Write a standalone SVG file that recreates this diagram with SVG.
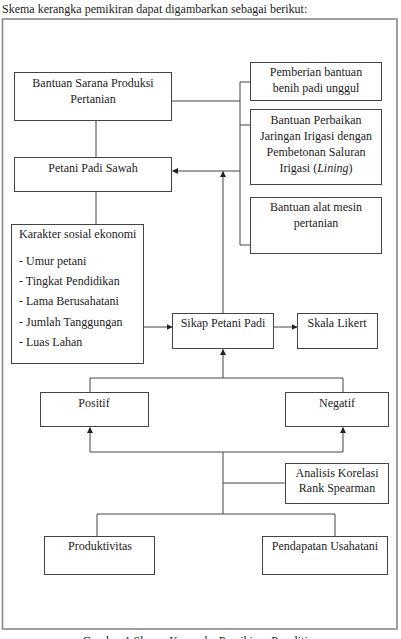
<svg xmlns="http://www.w3.org/2000/svg" width="401" height="639" viewBox="0 0 401 639">
<style>
text{font-family:'Liberation Serif','Times New Roman',serif;font-size:12px;fill:#222}
.c{text-anchor:middle}
.b{fill:#fff;stroke:#444;stroke-width:1}
.l{fill:none;stroke:#444;stroke-width:1}
</style>
<defs>
<marker id="ah" markerWidth="6" markerHeight="6" refX="5.5" refY="3" orient="auto" markerUnits="userSpaceOnUse">
<path d="M0,0 L6,3 L0,6 Z" fill="#222"/>
</marker>
</defs>
<rect width="401" height="639" fill="#fff"/>
<g font-family="'Liberation Serif', 'Times New Roman', serif">
<text x="2" y="13">Skema kerangka pemikiran dapat digambarkan sebagai berikut:</text>
<rect x="2.5" y="19" width="394.5" height="610" fill="none" stroke="#888" stroke-width="1.6"/>

<g id="connectors">
<path class="l" d="M172,101 H240"/>
<path class="l" d="M250,82 H240 V245 H250"/>
<path class="l" d="M240,125 H250"/>
<path class="l" d="M240,171 H172.5" marker-end="url(#ah)"/>
<path class="l" d="M96,121 V157"/>
<path class="l" d="M96,192 V224"/>
<path class="l" d="M223,313 V171.5" marker-end="url(#ah)"/>
<path class="l" d="M144,327 H172" marker-end="url(#ah)"/>
<path class="l" d="M274,327 H297" marker-end="url(#ah)"/>
<path class="l" d="M223,378 V349.5" marker-end="url(#ah)"/>
<path class="l" d="M90,392 V378 H343 V392"/>
<path class="l" d="M90,452 H343"/>
<path class="l" d="M90,452 V427.5" marker-end="url(#ah)"/>
<path class="l" d="M343,452 V427.5" marker-end="url(#ah)"/>
<path class="l" d="M223,452 V514"/>
<path class="l" d="M223,483 H285"/>
<path class="l" d="M97,536 V514 H335 V536"/>
</g>

<g id="bantuan-sarana">
<rect class="b" x="14.5" y="72.5" width="157" height="48"/>
<text class="c" x="93" y="87">Bantuan Sarana Produksi</text>
<text class="c" x="93" y="103">Pertanian</text>
</g>
<g id="pemberian-bantuan">
<rect class="b" x="250.5" y="62.5" width="131" height="38"/>
<text class="c" x="316" y="76">Pemberian bantuan</text>
<text class="c" x="316" y="92">benih padi unggul</text>
</g>
<g id="perbaikan-irigasi">
<rect class="b" x="250.5" y="109.5" width="131" height="75"/>
<text class="c" x="316" y="124">Bantuan Perbaikan</text>
<text class="c" x="316" y="140">Jaringan Irigasi dengan</text>
<text class="c" x="316" y="156">Pembetonan Saluran</text>
<text class="c" x="316" y="172">Irigasi (<tspan font-style="italic">Lining</tspan>)</text>
</g>
<g id="alat-mesin">
<rect class="b" x="250.5" y="197.5" width="131" height="56"/>
<text class="c" x="316" y="211">Bantuan alat mesin</text>
<text class="c" x="316" y="227">pertanian</text>
</g>
<g id="petani-padi-sawah">
<rect class="b" x="14.5" y="157.5" width="157" height="34"/>
<text class="c" x="93" y="172">Petani Padi Sawah</text>
</g>
<g id="karakter">
<rect class="b" x="11.5" y="224.5" width="132" height="139"/>
<text x="19" y="238">Karakter sosial ekonomi</text>
<text x="19" y="265">- Umur petani</text>
<text x="19" y="285">- Tingkat Pendidikan</text>
<text x="19" y="305">- Lama Berusahatani</text>
<text x="19" y="326">- Jumlah Tanggungan</text>
<text x="19" y="346">- Luas Lahan</text>
</g>
<g id="sikap">
<rect class="b" x="172.5" y="313.5" width="101" height="35"/>
<text class="c" x="223" y="327">Sikap Petani Padi</text>
</g>
<g id="skala-likert">
<rect class="b" x="297.5" y="313.5" width="80" height="35"/>
<text class="c" x="337" y="327">Skala Likert</text>
</g>
<g id="positif">
<rect class="b" x="40.5" y="392.5" width="108" height="34"/>
<text class="c" x="94" y="407">Positif</text>
</g>
<g id="negatif">
<rect class="b" x="285.5" y="392.5" width="103" height="34"/>
<text class="c" x="337" y="407">Negatif</text>
</g>
<g id="analisis">
<rect class="b" x="285.5" y="463.5" width="103" height="40"/>
<text class="c" x="337" y="477">Analisis Korelasi</text>
<text class="c" x="337" y="492">Rank Spearman</text>
</g>
<g id="produktivitas">
<rect class="b" x="44.5" y="536.5" width="110" height="38"/>
<text class="c" x="100" y="550">Produktivitas</text>
</g>
<g id="pendapatan">
<rect class="b" x="262.5" y="536.5" width="125" height="38"/>
<text class="c" x="325" y="550">Pendapatan Usahatani</text>
</g>
<text class="c" x="201" y="645">Gambar 1 Skema Kerangka Pemikiran Penelitian</text>
</g>
</svg>
